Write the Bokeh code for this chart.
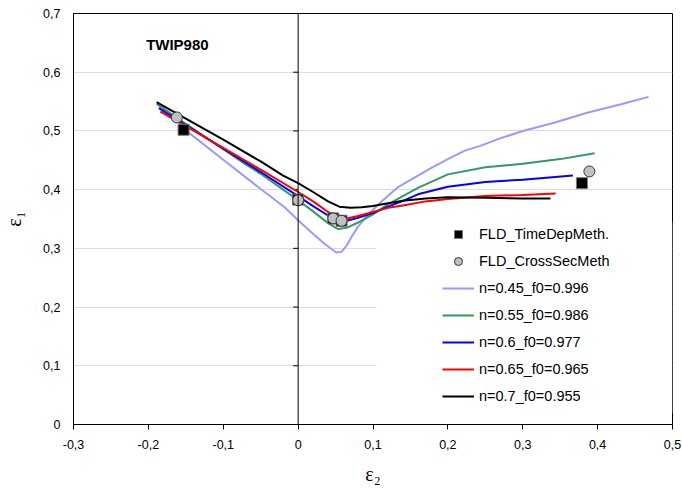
import math
from bokeh.plotting import figure
from bokeh.models import (Range1d, FixedTicker, CustomJSTickFormatter, Span, Label,
                          Legend, LegendItem, BoxAnnotation)
from bokeh.embed import file_html
from bokeh.resources import INLINE

# ---------------- data ----------------
x_ticks = [-0.3, -0.2, -0.1, 0.0, 0.1, 0.2, 0.3, 0.4, 0.5]
x_tick_labels = ["-0,3", "-0,2", "-0,1", "0", "0,1", "0,2", "0,3", "0,4", "0,5"]
y_ticks = [0.0, 0.1, 0.2, 0.3, 0.4, 0.5, 0.6, 0.7]
y_tick_labels = ["0", "0,1", "0,2", "0,3", "0,4", "0,5", "0,6", "0,7"]

time_dep_x = [-0.153, 0.0, 0.047, 0.058, 0.379]
time_dep_y = [0.502, 0.383, 0.351, 0.347, 0.411]
cross_sec_x = [-0.162, 0.0, 0.047, 0.058, 0.389]
cross_sec_y = [0.523, 0.382, 0.351, 0.347, 0.431]

n045_x = [-0.155, -0.144, -0.1, -0.075, -0.05, -0.018, 0.0, 0.018, 0.036, 0.051, 0.058, 0.065,
          0.071, 0.08, 0.094, 0.11, 0.133, 0.156, 0.178, 0.2, 0.222, 0.244, 0.267, 0.3, 0.342,
          0.386, 0.43, 0.468]
n045_y = [0.505, 0.495, 0.451, 0.426, 0.401, 0.370, 0.348, 0.327, 0.307, 0.293, 0.294, 0.305,
          0.319, 0.337, 0.358, 0.378, 0.404, 0.421, 0.437, 0.452, 0.466, 0.475, 0.486, 0.500, 0.514,
          0.531, 0.545, 0.558]

n055_x = [-0.189, -0.15, -0.1, -0.07, -0.05, -0.02, 0.0, 0.02, 0.04, 0.053, 0.065, 0.08, 0.1,
          0.12, 0.14, 0.16, 0.2, 0.25, 0.3, 0.35, 0.396]
n055_y = [0.546, 0.512, 0.469, 0.443, 0.427, 0.400, 0.382, 0.363, 0.343, 0.333, 0.335, 0.344, 0.358,
          0.375, 0.389, 0.403, 0.426, 0.438, 0.444, 0.452, 0.462]

n06_x = [-0.186, -0.15, -0.1, -0.05, 0.0, 0.02, 0.04, 0.055, 0.065, 0.08, 0.1, 0.12, 0.14, 0.16,
         0.2, 0.25, 0.3, 0.367]
n06_y = [0.539, 0.510, 0.470, 0.430, 0.389, 0.372, 0.356, 0.347, 0.347, 0.352, 0.360, 0.371, 0.381,
         0.392, 0.405, 0.413, 0.417, 0.424]

n065_x = [-0.184, -0.15, -0.1, -0.05, 0.0, 0.02, 0.04, 0.055, 0.065, 0.08, 0.1, 0.12, 0.14, 0.17,
          0.2, 0.25, 0.3, 0.344]
n065_y = [0.533, 0.508, 0.471, 0.434, 0.396, 0.380, 0.362, 0.353, 0.351, 0.355, 0.362, 0.369, 0.373,
          0.380, 0.384, 0.389, 0.391, 0.3935]

n07_x = [-0.189, -0.15, -0.1, -0.05, -0.02, 0.0, 0.02, 0.04, 0.055, 0.07, 0.085, 0.1, 0.12, 0.14,
         0.17, 0.2, 0.25, 0.3, 0.337]
n07_y = [0.549, 0.521, 0.485, 0.448, 0.424, 0.411, 0.396, 0.380, 0.371, 0.369, 0.370, 0.372, 0.377,
         0.381, 0.385, 0.387, 0.386, 0.385, 0.385]

series = [
    ("n=0.45_f0=0.996", n045_x, n045_y, "#9999ff"),
    ("n=0.55_f0=0.986", n055_x, n055_y, "#339966"),
    ("n=0.6_f0=0.977", n06_x, n06_y, "#0000ff"),
    ("n=0.65_f0=0.965", n065_x, n065_y, "#ff0000"),
    ("n=0.7_f0=0.955", n07_x, n07_y, "#000000"),
]

FONT = "Liberation Sans"

p = figure(width=682, height=489, output_backend="svg", toolbar_location=None,
           x_range=Range1d(-0.3, 0.5), y_range=Range1d(0, 0.7),
           min_border_left=70, min_border_right=10, min_border_top=13, min_border_bottom=65)
p.background_fill_color = "white"
p.border_fill_color = "white"
p.outline_line_color = "black"
p.outline_line_width = 1

p.xgrid.visible = False
p.ygrid.ticker = FixedTicker(ticks=y_ticks)
p.ygrid.grid_line_color = "#dcdcdc"
p.ygrid.grid_line_width = 1

fmt_code = """
for (let i = 0; i < tvals.length; i++) {
  if (Math.abs(tvals[i] - tick) < 1e-9) return tlabels[i];
}
return '';
"""
p.xaxis.ticker = FixedTicker(ticks=x_ticks)
p.xaxis.formatter = CustomJSTickFormatter(args=dict(tvals=x_ticks, tlabels=x_tick_labels), code=fmt_code)
p.yaxis.ticker = FixedTicker(ticks=y_ticks)
p.yaxis.formatter = CustomJSTickFormatter(args=dict(tvals=y_ticks, tlabels=y_tick_labels), code=fmt_code)

for ax in (p.xaxis[0], p.yaxis[0]):
    ax.axis_line_color = "black"
    ax.major_tick_line_color = "black"
    ax.minor_tick_line_color = None
    ax.major_tick_in = 0
    ax.major_label_text_font = FONT
    ax.major_label_text_font_size = "12.5px"
    ax.major_label_text_color = "black"
    ax.axis_label_text_font = "Liberation Serif"
    ax.axis_label_text_font_size = "20px"
    ax.axis_label_text_font_style = "normal"
    ax.axis_label_text_color = "black"

p.xaxis.major_tick_out = 5
p.xaxis.major_label_standoff = 10
p.xaxis.axis_label = "ε₂"
p.xaxis.axis_label_standoff = 11
p.yaxis.major_tick_out = 0
p.yaxis.major_label_standoff = 13
p.yaxis.axis_label = "ε₁"
p.yaxis.axis_label_standoff = 15

# white panel behind legend (hides grid there)
p.add_layout(BoxAnnotation(left=0.1045, right=0.5, bottom=0.02, top=0.345,
                           fill_color="white", fill_alpha=1.0, line_color=None, level="underlay"))

# vertical axis line at x = 0 with small ticks
p.add_layout(Span(location=0, dimension="height", line_color="black", line_width=1))
p.ray(x=[0.0] * (len(y_ticks) - 2), y=y_ticks[1:-1], length=5, length_units="screen",
      angle=math.pi, line_color="black", line_width=1)

line_items = []
for name, xs, ys, col in series:
    r = p.line(xs, ys, line_color=col, line_width=2)
    line_items.append(LegendItem(label=name, renderers=[r]))

sq = p.scatter(time_dep_x, time_dep_y, marker="square", size=11, fill_color="black",
               line_color="#777777", line_width=1)
ci = p.scatter(cross_sec_x, cross_sec_y, marker="circle", size=11, fill_color="#c0c0c0",
               line_color="#333333", line_width=1)

legend = Legend(items=[LegendItem(label="FLD_TimeDepMeth.", renderers=[sq]),
                       LegendItem(label="FLD_CrossSecMeth", renderers=[ci])] + line_items,
                location=(369, 18), padding=8, margin=0, spacing=7, glyph_height=20, glyph_width=32,
                label_standoff=5, label_height=20, label_text_font=FONT, label_text_font_size="14.5px",
                label_text_color="black", background_fill_color="white", background_fill_alpha=1.0,
                border_line_color=None)
p.add_layout(legend)

p.add_layout(Label(x=-0.203, y=0.647, text="TWIP980", text_font=FONT, text_font_size="15px",
                   text_font_style="bold", text_baseline="middle", text_color="black"))

open("out.html", "w").write(file_html(p, INLINE))
